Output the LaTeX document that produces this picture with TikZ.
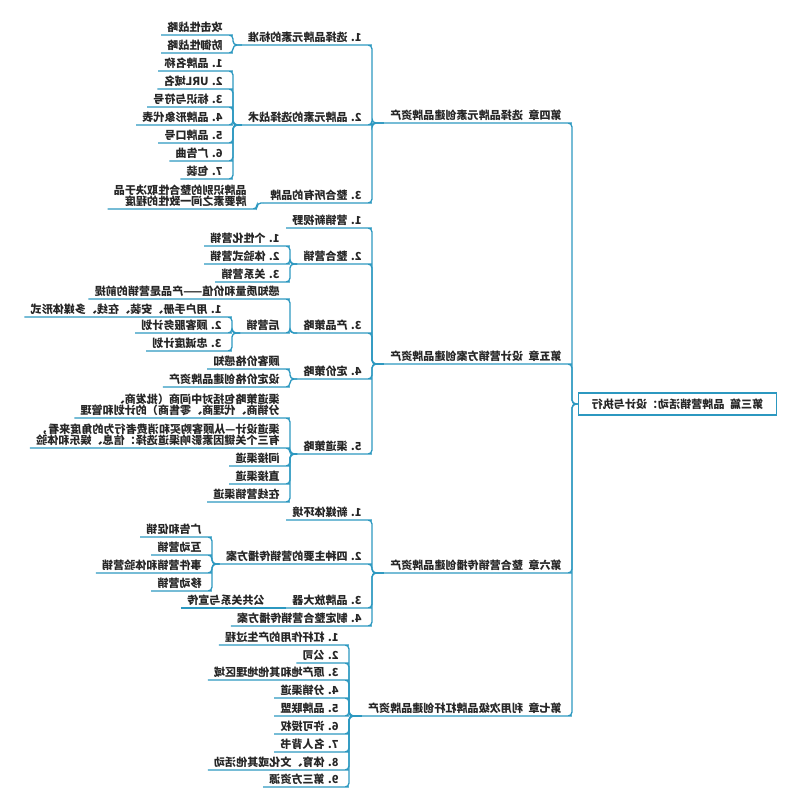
\documentclass[tikz,border=0pt]{standalone}
\usepackage{fontspec}
\usepackage{tikz}

\newfontfamily\cjk{Noto Sans CJK SC}
\definecolor{lineBlue}{RGB}{44,152,192}
\newcommand{\gapSp}{\hspace{0.5em}}

\tikzset{
  topic/.style={anchor=south west, inner xsep=4.5pt, inner ysep=1.5pt, align=left,
    font=\cjk\bfseries\fontsize{8.3}{8.6}\selectfont, text=black!85},
  link/.style={draw=lineBlue, line width=1pt, rounded corners=3pt},
}

\begin{document}
\begin{tikzpicture}[xscale=-1, x=0.75pt, y=-0.75pt, transform shape]
    % Fix the page to the reference size
    \useasboundingbox (0,0) rectangle (800,809);

    % Draw root topic
    \node[topic, anchor=center, draw=lineBlue, line width=0.9pt,
      minimum width=149pt, minimum height=16.5pt] (root) at (122.5,404)
      {第三篇\gapSp 品牌营销活动：设计与执行};

    % Draw chapter topics
    \node[topic] (ch4) at (232,123) {第四章\gapSp 选择品牌元素创建品牌资产};
    \node[topic] (ch5) at (232,364) {第五章\gapSp 设计营销方案创建品牌资产};
    \node[topic] (ch6) at (232,573) {第六章\gapSp 整合营销传播创建品牌资产};
    \node[topic] (ch7) at (232,716) {第七章\gapSp 利用次级品牌杠杆创建品牌资产};

    % Chapter four
    \node[topic] (ch4a) at (432,45) {1. 选择品牌元素的标准};
    \node[topic] (ch4aa) at (571,35) {攻击性战略};
    \node[topic] (ch4ab) at (571,53) {防御性战略};
    \node[topic] (ch4b) at (432,125) {2. 品牌元素的选择战术};
    \node[topic] (ch4ba) at (571,71) {1. 品牌名称};
    \node[topic] (ch4bb) at (571,89) {2. URL域名};
    \node[topic] (ch4bc) at (571,107) {3. 标识与符号};
    \node[topic] (ch4bd) at (571,125) {4. 品牌形象代表};
    \node[topic] (ch4be) at (571,143) {5. 品牌口号};
    \node[topic] (ch4bf) at (571,161) {6. 广告曲};
    \node[topic] (ch4bg) at (571,179) {7. 包装};
    \node[topic] (ch4c) at (432,203) {3. 整合所有的品牌};
    \node[topic] (ch4ca) at (547,209) {品牌识别的整合性取决于品\\牌要素之间一致性的程度};

    % Chapter five
    \node[topic] (ch5a) at (432,228) {1. 营销新视野};
    \node[topic] (ch5b) at (432,264) {2. 整合营销};
    \node[topic] (ch5ba) at (514,246) {1. 个性化营销};
    \node[topic] (ch5bb) at (514,264) {2. 体验式营销};
    \node[topic] (ch5bc) at (514,282) {3. 关系营销};
    \node[topic] (ch5c) at (432,333) {3. 产品策略};
    \node[topic] (ch5ca) at (514,299) {感知质量和价值——产品是营销的前提};
    \node[topic] (ch5cb) at (514,333) {后营销};
    \node[topic] (ch5cba) at (572,317) {1. 用户手册、安装、在线、多媒体形式};
    \node[topic] (ch5cbb) at (572,333) {2. 顾客服务计划};
    \node[topic] (ch5cbc) at (572,351) {3. 忠诚度计划};
    \node[topic] (ch5d) at (432,379) {4. 定价策略};
    \node[topic] (ch5da) at (514,369) {顾客价格感知};
    \node[topic] (ch5db) at (514,387) {设定价格创建品牌资产};
    \node[topic] (ch5e) at (432,454) {5. 渠道策略};
    \node[topic] (ch5ea) at (514,418) {渠道策略包括对中间商（批发商、\\分销商、代理商、零售商）的计划和管理};
    \node[topic] (ch5eb) at (514,448) {渠道设计—从顾客购买和消费者行为的角度来看，\\有三个关键因素影响渠道选择：信息、娱乐和体验};
    \node[topic] (ch5ec) at (514,466) {间接渠道};
    \node[topic] (ch5ed) at (514,484) {直接渠道};
    \node[topic] (ch5ee) at (514,502) {在线营销渠道};

    % Chapter six
    \node[topic] (ch6a) at (432,520) {1. 新媒体环境};
    \node[topic] (ch6b) at (432,564) {2. 四种主要的营销传播方案};
    \node[topic] (ch6ba) at (592,537) {广告和促销};
    \node[topic] (ch6bb) at (592,555) {互动营销};
    \node[topic] (ch6bc) at (592,573) {事件营销和体验营销};
    \node[topic] (ch6bd) at (592,591) {移动营销};
    \node[topic] (ch6c) at (432,608) {3. 品牌放大器};
    \node[topic] (ch6ca) at (529,608) {公共关系与宣传};
    \node[topic] (ch6d) at (432,626) {4. 制定整合营销传播方案};

    % Chapter seven
    \node[topic] (ch7a) at (455,645) {1. 杠杆作用的产生过程};
    \node[topic] (ch7b) at (455,663) {2. 公司};
    \node[topic] (ch7c) at (455,680) {3. 原产地和其他地理区域};
    \node[topic] (ch7d) at (455,698) {4. 分销渠道};
    \node[topic] (ch7e) at (455,716) {5. 品牌联盟};
    \node[topic] (ch7f) at (455,734) {6. 许可授权};
    \node[topic] (ch7g) at (455,752) {7. 名人背书};
    \node[topic] (ch7h) at (455,770) {8. 体育、文化或其他活动};
    \node[topic] (ch7i) at (455,787) {9. 第三方资源};

    % Draw brackets from each topic back to its parent
    \draw[link] (ch4.south east) -- (ch4.south west) -- ++(-4,0) |- (root.east);
    \draw[link] (ch5.south east) -- (ch5.south west) -- ++(-4,0) |- (root.east);
    \draw[link] (ch6.south east) -- (ch6.south west) -- ++(-4,0) |- (root.east);
    \draw[link] (ch7.south east) -- (ch7.south west) -- ++(-4,0) |- (root.east);

    \draw[link] (ch4a.south east) -- (ch4a.south west) -- ++(-4,0) |- (ch4.south east);
    \draw[link] (ch4b.south east) -- (ch4b.south west) -- ++(-4,0) |- (ch4.south east);
    \draw[link] (ch4c.south east) -- (ch4c.south west) -- ++(-4,0) |- (ch4.south east);
    \draw[link] (ch4aa.south east) -- (ch4aa.south west) -- ++(-4,0) |- (ch4a.south east);
    \draw[link] (ch4ab.south east) -- (ch4ab.south west) -- ++(-4,0) |- (ch4a.south east);
    \draw[link] (ch4ba.south east) -- (ch4ba.south west) -- ++(-4,0) |- (ch4b.south east);
    \draw[link] (ch4bb.south east) -- (ch4bb.south west) -- ++(-4,0) |- (ch4b.south east);
    \draw[link] (ch4bc.south east) -- (ch4bc.south west) -- ++(-4,0) |- (ch4b.south east);
    \draw[link] (ch4bd.south east) -- (ch4bd.south west) -- ++(-4,0) |- (ch4b.south east);
    \draw[link] (ch4be.south east) -- (ch4be.south west) -- ++(-4,0) |- (ch4b.south east);
    \draw[link] (ch4bf.south east) -- (ch4bf.south west) -- ++(-4,0) |- (ch4b.south east);
    \draw[link] (ch4bg.south east) -- (ch4bg.south west) -- ++(-4,0) |- (ch4b.south east);
    \draw[link] (ch4ca.south east) -- (ch4ca.south west) -- ++(-4,0) |- (ch4c.south east);

    \draw[link] (ch5a.south east) -- (ch5a.south west) -- ++(-4,0) |- (ch5.south east);
    \draw[link] (ch5b.south east) -- (ch5b.south west) -- ++(-4,0) |- (ch5.south east);
    \draw[link] (ch5c.south east) -- (ch5c.south west) -- ++(-4,0) |- (ch5.south east);
    \draw[link] (ch5d.south east) -- (ch5d.south west) -- ++(-4,0) |- (ch5.south east);
    \draw[link] (ch5e.south east) -- (ch5e.south west) -- ++(-4,0) |- (ch5.south east);
    \draw[link] (ch5ba.south east) -- (ch5ba.south west) -- ++(-4,0) |- (ch5b.south east);
    \draw[link] (ch5bb.south east) -- (ch5bb.south west) -- ++(-4,0) |- (ch5b.south east);
    \draw[link] (ch5bc.south east) -- (ch5bc.south west) -- ++(-4,0) |- (ch5b.south east);
    \draw[link] (ch5ca.south east) -- (ch5ca.south west) -- ++(-4,0) |- (ch5c.south east);
    \draw[link] (ch5cb.south east) -- (ch5cb.south west) -- ++(-4,0) |- (ch5c.south east);
    \draw[link] (ch5cba.south east) -- (ch5cba.south west) -- ++(-4,0) |- (ch5cb.south east);
    \draw[link] (ch5cbb.south east) -- (ch5cbb.south west) -- ++(-4,0) |- (ch5cb.south east);
    \draw[link] (ch5cbc.south east) -- (ch5cbc.south west) -- ++(-4,0) |- (ch5cb.south east);
    \draw[link] (ch5da.south east) -- (ch5da.south west) -- ++(-4,0) |- (ch5d.south east);
    \draw[link] (ch5db.south east) -- (ch5db.south west) -- ++(-4,0) |- (ch5d.south east);
    \draw[link] (ch5ea.south east) -- (ch5ea.south west) -- ++(-4,0) |- (ch5e.south east);
    \draw[link] (ch5eb.south east) -- (ch5eb.south west) -- ++(-4,0) |- (ch5e.south east);
    \draw[link] (ch5ec.south east) -- (ch5ec.south west) -- ++(-4,0) |- (ch5e.south east);
    \draw[link] (ch5ed.south east) -- (ch5ed.south west) -- ++(-4,0) |- (ch5e.south east);
    \draw[link] (ch5ee.south east) -- (ch5ee.south west) -- ++(-4,0) |- (ch5e.south east);

    \draw[link] (ch6a.south east) -- (ch6a.south west) -- ++(-4,0) |- (ch6.south east);
    \draw[link] (ch6b.south east) -- (ch6b.south west) -- ++(-4,0) |- (ch6.south east);
    \draw[link] (ch6c.south east) -- (ch6c.south west) -- ++(-4,0) |- (ch6.south east);
    \draw[link] (ch6d.south east) -- (ch6d.south west) -- ++(-4,0) |- (ch6.south east);
    \draw[link] (ch6ba.south east) -- (ch6ba.south west) -- ++(-4,0) |- (ch6b.south east);
    \draw[link] (ch6bb.south east) -- (ch6bb.south west) -- ++(-4,0) |- (ch6b.south east);
    \draw[link] (ch6bc.south east) -- (ch6bc.south west) -- ++(-4,0) |- (ch6b.south east);
    \draw[link] (ch6bd.south east) -- (ch6bd.south west) -- ++(-4,0) |- (ch6b.south east);
    \draw[link] (ch6ca.south east) -- (ch6ca.south west) -- (ch6c.south east);

    \draw[link] (ch7a.south east) -- (ch7a.south west) -- ++(-4,0) |- (ch7.south east);
    \draw[link] (ch7b.south east) -- (ch7b.south west) -- ++(-4,0) |- (ch7.south east);
    \draw[link] (ch7c.south east) -- (ch7c.south west) -- ++(-4,0) |- (ch7.south east);
    \draw[link] (ch7d.south east) -- (ch7d.south west) -- ++(-4,0) |- (ch7.south east);
    \draw[link] (ch7e.south east) -- (ch7e.south west) -- ++(-4,0) |- (ch7.south east);
    \draw[link] (ch7f.south east) -- (ch7f.south west) -- ++(-4,0) |- (ch7.south east);
    \draw[link] (ch7g.south east) -- (ch7g.south west) -- ++(-4,0) |- (ch7.south east);
    \draw[link] (ch7h.south east) -- (ch7h.south west) -- ++(-4,0) |- (ch7.south east);
    \draw[link] (ch7i.south east) -- (ch7i.south west) -- ++(-4,0) |- (ch7.south east);
  \end{tikzpicture}
\end{document}
